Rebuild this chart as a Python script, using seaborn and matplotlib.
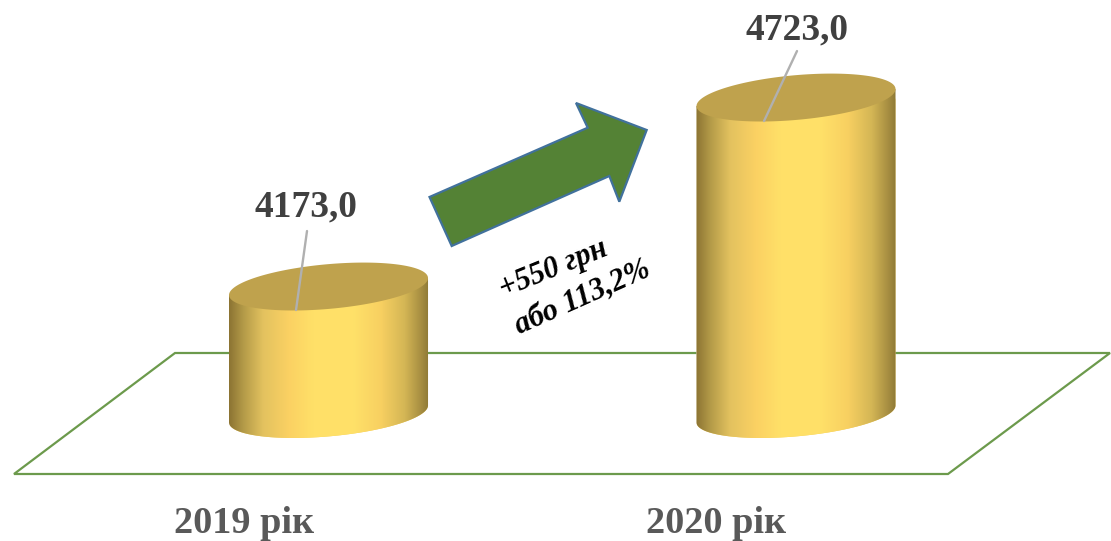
import numpy as np
import pandas as pd
import matplotlib
matplotlib.use("Agg")
import matplotlib.pyplot as plt
from matplotlib.colors import LinearSegmentedColormap
from matplotlib.path import Path
from matplotlib.patches import Polygon, PathPatch
import seaborn as sns

years = ["2019 рік", "2020 рік"]
amounts = [4173.0, 4723.0]
value_labels = ["4173,0", "4723,0"]
note_lines = ["+550 грн", "або 113,2%"]

BASE = 3802.0          # value at the cylinders' common floor
Y_LIM = (3432.4, 5006.9)
X_LIM = (-0.7027, 1.6738)
BAR_W = 0.4257
TILT = 8.5 / 0.3436    # ellipse slant, in value units
DEPTH = 22.4 / 0.3436  # ellipse half depth, in value units

sns.set_theme(style="white")
plt.rcParams["font.family"] = ["Liberation Serif", "DejaVu Serif"]

W, H = 1111, 541
fig = plt.figure(figsize=(W / 100, H / 100), dpi=100, facecolor="white")
ax = fig.add_axes([0, 0, 1, 1], zorder=1)

def px(points):
    return [(x / W, 1 - y / H) for x, y in points]

# floor plane (behind the axes)
fig.add_artist(Polygon(px([(175, 353), (1110, 353), (948, 474), (14, 474)]), closed=True,
                       fill=False, edgecolor="#6c9a4c", linewidth=1.6, zorder=0.5,
                       transform=fig.transFigure))
ax.patch.set_alpha(0)

df = pd.DataFrame({"year": years, "amount": amounts})
sns.barplot(data=df, x="year", y="amount", width=BAR_W, color="#f5d060",
            saturation=1, ax=ax, zorder=2)

cmap = LinearSegmentedColormap.from_list("gold", [
    (0.00, "#8c7433"), (0.07, "#b39a48"), (0.17, "#e3c25f"), (0.30, "#fbd163"),
    (0.42, "#ffe068"), (0.62, "#ffe169"), (0.76, "#f8d061"), (0.88, "#d4b655"),
    (0.96, "#a88f42"), (1.00, "#8f7a36")])
grad = np.linspace(0, 1, 256).reshape(1, -1)
t_low = np.linspace(np.pi, 2 * np.pi, 80)
t_all = np.linspace(0, 2 * np.pi, 160)

for bar, value in zip(ax.patches, amounts):
    x0, w = bar.get_x(), bar.get_width()
    cx, a = x0 + w / 2, w / 2
    xs = cx + a * np.cos(t_low)
    ys = BASE + TILT * np.cos(t_low) + DEPTH * np.sin(t_low)
    outline = list(zip(xs, ys)) + [(x0 + w, value + TILT), (x0, value - TILT), (xs[0], ys[0])]
    clip = PathPatch(Path(outline), transform=ax.transData, fc="none", ec="none")
    ax.add_patch(clip)
    bar.set_clip_path(clip)
    im = ax.imshow(grad, extent=[x0, x0 + w, BASE - 2 * DEPTH, value + 2 * DEPTH],
                   aspect="auto", cmap=cmap, zorder=3, interpolation="bilinear")
    im.set_clip_path(clip)
    ax.fill(cx + a * np.cos(t_all),
            value + TILT * np.cos(t_all) + DEPTH * np.sin(t_all),
            color="#bfa24d", lw=0, zorder=4)

ax.set_xlim(*X_LIM)
ax.set_ylim(*Y_LIM)
ax.axis("off")

# value labels and their leader lines: offsets in pixels from each bar's top centre
leaders = [((-32.5, -23.5), (-21.5, 55.5)), ((-32, -23.5), (1, 46.5))]
label_pos = [(-22.5, 70), (1, 58.5)]
inv = ax.transData.inverted()
for i, (lab, value) in enumerate(zip(value_labels, amounts)):
    p0 = ax.transData.transform((i, value))
    start, end = [inv.transform(p0 + np.array(d)) for d in leaders[i]]
    ax.plot([start[0], end[0]], [start[1], end[1]], color="#b0b0b0", lw=1.7, zorder=5)
    ax.annotate(lab, xy=(i, value), xytext=label_pos[i], textcoords="offset pixels",
                ha="center", va="baseline", fontsize=27, fontweight="bold",
                color="#404040", zorder=6, annotation_clip=False)

# category labels
for i, (lab, shift) in enumerate(zip(years, (-84, -80))):
    ax.annotate(lab, xy=(i, Y_LIM[0]), xytext=(shift, 8), textcoords="offset pixels",
                ha="center", va="baseline", fontsize=27.5, fontweight="bold", color="#595959")

# growth arrow
fig.add_artist(Polygon(px([(429.5, 197), (451.7, 246), (609.3, 176), (619.3, 201.7),
                           (646.7, 130), (576, 103), (587.7, 127.7)]), closed=True,
                       facecolor="#548235", edgecolor="#41719c", linewidth=1.6,
                       transform=fig.transFigure, zorder=7))
for line, (nx, ny), rot in zip(note_lines, [(553.5, 269), (582.5, 297.5)], (22, 24)):
    fig.text(nx / W, 1 - ny / H, line, ha="center", va="center",
             rotation=rot, rotation_mode="anchor", fontsize=22, fontweight="bold",
             fontstyle="italic", color="black")

fig.savefig("out.png", dpi=100)
